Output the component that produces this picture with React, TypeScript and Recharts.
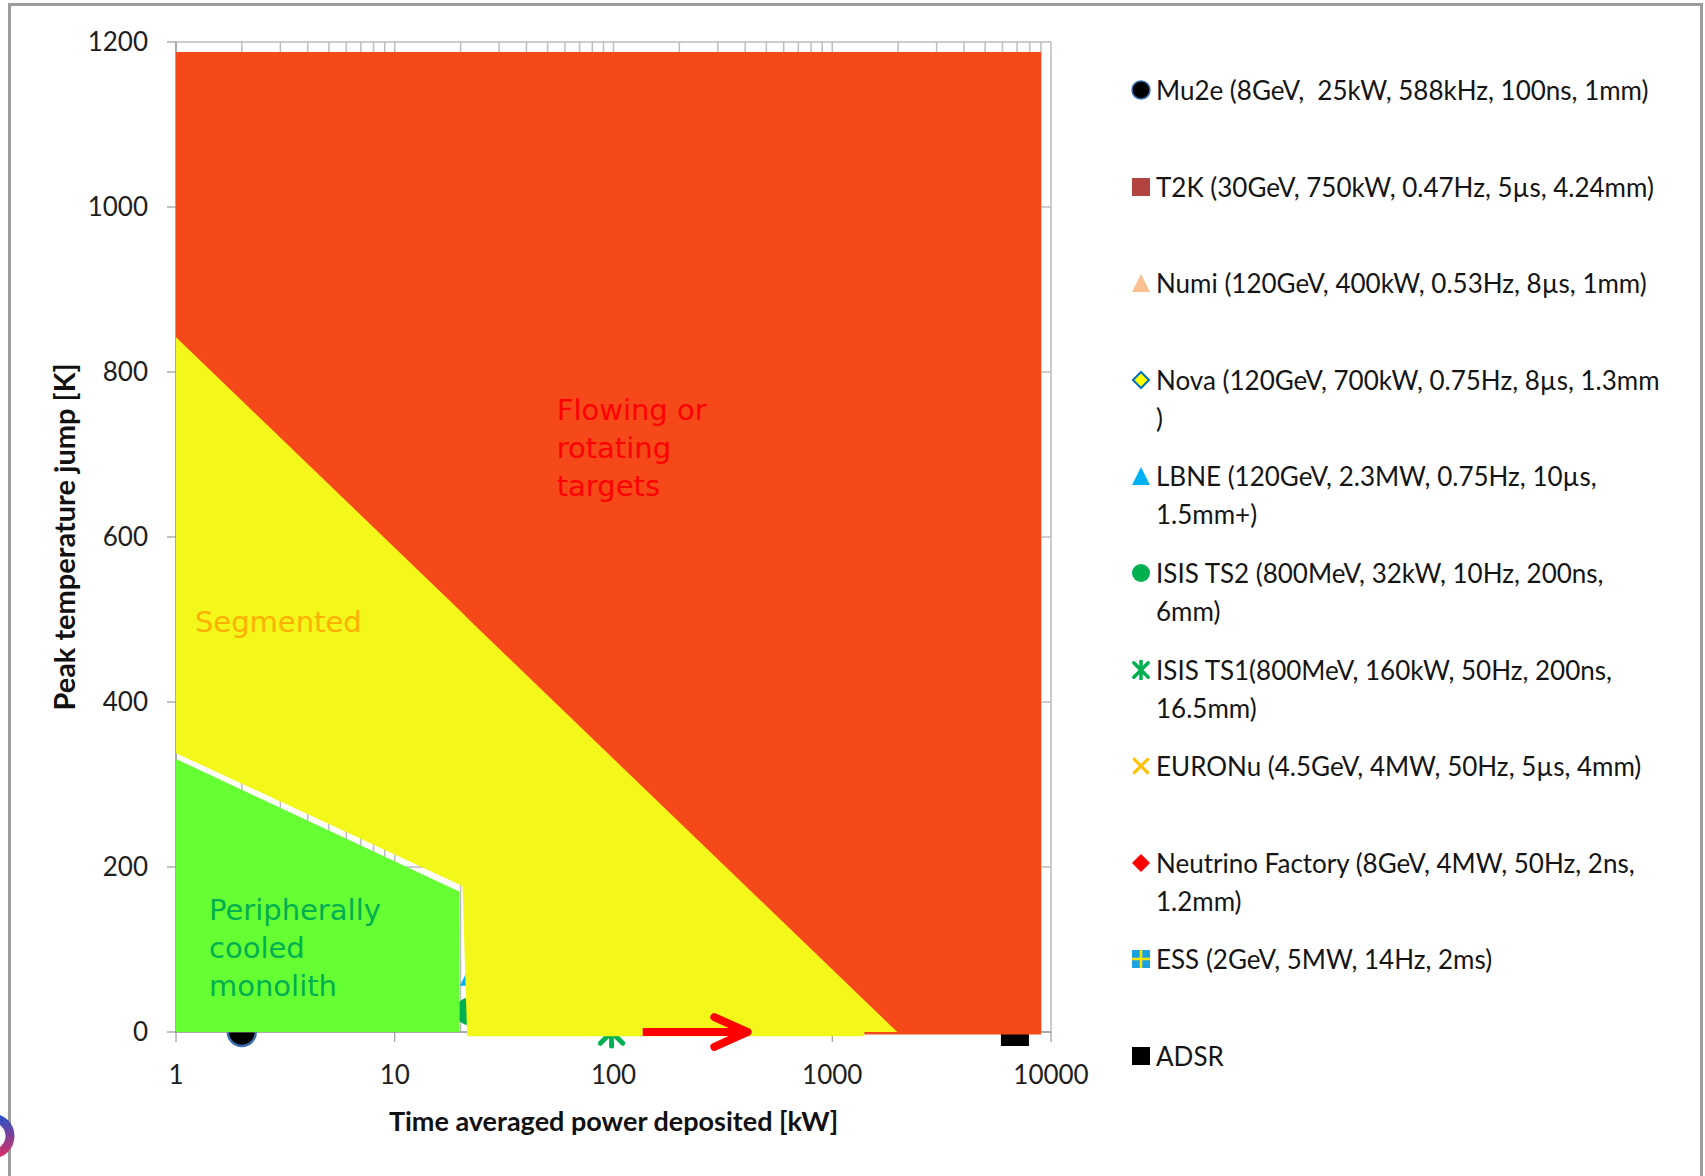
import React from "react";
import { ComposedChart, Area, Scatter, XAxis, YAxis, CartesianGrid, ReferenceLine, ReferenceDot, ReferenceArea, Label } from "recharts";

const X_TICKS = [1, 10, 100, 1000, 10000];
const X_GRID = [
  1, 2, 3, 4, 5, 6, 7, 8, 9,
  10, 20, 30, 40, 50, 60, 70, 80, 90,
  100, 200, 300, 400, 500, 600, 700, 800, 900,
  1000, 2000, 3000, 4000, 5000, 6000, 7000, 8000, 9000,
  10000,
];
const Y_TICKS = [0, 200, 400, 600, 800, 1000, 1200];

// design zones, [low, high] temperature at each power
const redZone = [
  { x: 1, range: [738, 1188] },
  { x: 1400, range: [0, 1188] },
  { x: 9000, range: [0, 1188] },
];
const yellowZone = [
  { x: 1, range: [338, 842] },
  { x: 20.4, range: [177, 508] },
  { x: 21.4, range: [0, 502] },
  { x: 1982, range: [0, 0] },
];
const greenZone = [
  { x: 1, range: [0, 331] },
  { x: 19.8, range: [0, 170] },
];
// the fills spill a few kelvin below the axis
const yellowSpill = { x1: 21.4, x2: 1400, y1: -5, y2: 0 };
const redSpill = { x1: 1400, x2: 9000, y1: -3, y2: 0 };

// facility points (most sit under the zone fills)
const mu2e = [{ x: 2, y: 0 }];
const t2k = [{ x: 750, y: 220 }];
const numi = [{ x: 400, y: 300 }];
const nova = [{ x: 700, y: 260 }];
const lbne = [{ x: 23, y: 73 }];
const isisTs2 = [{ x: 22, y: 25 }];
const isisTs1 = [{ x: 98, y: 0 }];
const euronu = [{ x: 4000, y: 120 }];
const nufact = [{ x: 4000, y: 400 }];
const ess = [{ x: 5000, y: 200 }];
const adsr = [{ x: 6840, y: 0 }];

const arrowShaft = [{ x: 136, y: 0 }, { x: 409, y: 0 }];
const arrowBarbUp = [{ x: 289, y: 18 }, { x: 409, y: 0 }];
const arrowBarbDown = [{ x: 289, y: -18 }, { x: 409, y: 0 }];

type Kind = "mu2e" | "square" | "triangle" | "nova" | "circle" | "star" | "cross" | "diamond" | "ess";

const SERIES: { name: string; label: string; kind: Kind; color: string; data: { x: number; y: number }[] }[] = [
  { name: "Mu2e", label: "Mu2e (8GeV,  25kW, 588kHz, 100ns, 1mm)", kind: "mu2e", color: "#000000", data: mu2e },
  { name: "T2K", label: "T2K (30GeV, 750kW, 0.47Hz, 5\u00b5s, 4.24mm)", kind: "square", color: "#B3433F", data: t2k },
  { name: "Numi", label: "Numi (120GeV, 400kW, 0.53Hz, 8\u00b5s, 1mm)", kind: "triangle", color: "#FAC090", data: numi },
  { name: "Nova", label: "Nova (120GeV, 700kW, 0.75Hz, 8\u00b5s, 1.3mm\n)", kind: "nova", color: "#FFFF00", data: nova },
  { name: "LBNE", label: "LBNE (120GeV, 2.3MW, 0.75Hz, 10\u00b5s,\n1.5mm+)", kind: "triangle", color: "#00B0F0", data: lbne },
  { name: "ISIS TS2", label: "ISIS TS2 (800MeV, 32kW, 10Hz, 200ns,\n6mm)", kind: "circle", color: "#00B050", data: isisTs2 },
  { name: "ISIS TS1", label: "ISIS TS1(800MeV, 160kW, 50Hz, 200ns,\n16.5mm)", kind: "star", color: "#00B050", data: isisTs1 },
  { name: "EURONu", label: "EURONu (4.5GeV, 4MW, 50Hz, 5\u00b5s, 4mm)", kind: "cross", color: "#FFC000", data: euronu },
  { name: "Neutrino Factory", label: "Neutrino Factory (8GeV, 4MW, 50Hz, 2ns,\n1.2mm)", kind: "diamond", color: "#FF0000", data: nufact },
  { name: "ESS", label: "ESS (2GeV, 5MW, 14Hz, 2ms)", kind: "ess", color: "#1BA1E2", data: ess },
  { name: "ADSR", label: "ADSR", kind: "square", color: "#000000", data: adsr },
];

function drawMarker(kind: Kind, cx: number, cy: number, s: number, color: string) {
  const h = s / 2;
  switch (kind) {
    case "mu2e":
      return <circle cx={cx} cy={cy} r={h} fill="#000" stroke="#3B6DB3" strokeWidth={s > 20 ? 2.5 : 1.5} />;
    case "circle":
      return <circle cx={cx} cy={cy} r={h} fill={color} />;
    case "square":
      return <rect x={cx - h} y={cy - h} width={s} height={s} fill={color} />;
    case "triangle":
      return <polygon points={`${cx},${cy - h} ${cx + h},${cy + h} ${cx - h},${cy + h}`} fill={color} />;
    case "diamond":
      return <polygon points={`${cx},${cy - h} ${cx + h},${cy} ${cx},${cy + h} ${cx - h},${cy}`} fill={color} />;
    case "nova":
      return (
        <polygon
          points={`${cx},${cy - h + 1} ${cx + h - 1},${cy} ${cx},${cy + h - 1} ${cx - h + 1},${cy}`}
          fill={color}
          stroke="#0070C0"
          strokeWidth={2}
        />
      );
    case "star":
      return (
        <g stroke={color} strokeWidth={s > 20 ? 5 : 3.5} strokeLinecap="round">
          <line x1={cx - h * 0.8} y1={cy - h * 0.8} x2={cx + h * 0.8} y2={cy + h * 0.8} />
          <line x1={cx - h * 0.8} y1={cy + h * 0.8} x2={cx + h * 0.8} y2={cy - h * 0.8} />
          <line x1={cx} y1={cy - h} x2={cx} y2={cy + h} />
        </g>
      );
    case "cross":
      return (
        <g stroke={color} strokeWidth={3}>
          <line x1={cx - h * 0.85} y1={cy - h * 0.85} x2={cx + h * 0.85} y2={cy + h * 0.85} />
          <line x1={cx - h * 0.85} y1={cy + h * 0.85} x2={cx + h * 0.85} y2={cy - h * 0.85} />
        </g>
      );
    case "ess":
      return (
        <g>
          <rect x={cx - h} y={cy - h} width={s} height={s} fill={color} />
          <line x1={cx - h} y1={cy} x2={cx + h} y2={cy} stroke="#FFE400" strokeWidth={2.5} />
          <line x1={cx} y1={cy - h} x2={cx} y2={cy + h} stroke="#FFE400" strokeWidth={2.5} />
        </g>
      );
  }
  return null;
}

const markerShape = (kind: Kind, color: string, size: number) => (p: any) =>
  <g>{drawMarker(kind, p.cx, p.cy, size, color)}</g>;

const zoneText = (lines: string[], color: string) => (p: any) => {
  const vb = p.viewBox || { x: 0, y: 0 };
  return (
    <text x={vb.x} y={vb.y} fill={color} fontSize={29} fontFamily="'DejaVu Sans', sans-serif">
      {lines.map((l, i) => (
        <tspan key={i} x={vb.x} dy={i === 0 ? 0 : 38}>{l}</tspan>
      ))}
    </text>
  );
};

const tickStyle = { fill: "#1e1e1e", fontSize: 26, fontFamily: "Lato, sans-serif" };

function LegendBox() {
  return (
    <div style={{ position: "absolute", left: 1131, top: 71, width: 570, fontFamily: "Lato, sans-serif" }}>
      {SERIES.map((s) => (
        <div key={s.name} style={{ position: "relative", height: 96.6 }}>
          <svg width={20} height={20} style={{ position: "absolute", left: 0, top: 9 }}>
            {drawMarker(s.kind, 10, 10, 18, s.color)}
          </svg>
          <div style={{ position: "absolute", left: 25, top: 0, fontSize: 26, lineHeight: "38px", color: "#151515", whiteSpace: "pre" }}>
            {s.label}
          </div>
        </div>
      ))}
    </div>
  );
}

export default function App() {
  return (
    <div style={{ position: "fixed", left: 0, top: 0, width: 1705, height: 1176, overflow: "hidden", background: "#fff" }}>
      <div style={{ position: "absolute", left: 8, top: 3, width: 1695, height: 1300, border: "3px solid #9c9c9c", boxSizing: "border-box" }} />
      <svg width={40} height={80} style={{ position: "absolute", left: 0, top: 1096 }}>
        <defs>
          <linearGradient id="logoG" x1="0" y1="0" x2="0" y2="1">
            <stop offset="0" stopColor="#2f4fc4" />
            <stop offset="1" stopColor="#d0306a" />
          </linearGradient>
        </defs>
        <circle cx={-8} cy={40} r={18} fill="none" stroke="url(#logoG)" strokeWidth={9} />
      </svg>
      <div style={{ position: "absolute", left: 0, top: 0 }}>
        <ComposedChart width={1705} height={1176} margin={{ top: 42, right: 654, bottom: 0, left: 20 }}>
          <CartesianGrid stroke="#bdbdbd" strokeWidth={1.5} verticalValues={X_GRID} horizontalValues={Y_TICKS} />
          <XAxis
            type="number"
            dataKey="x"
            scale="log"
            domain={[1, 10000]}
            ticks={X_TICKS}
            interval={0}
            height={144}
            tickSize={10}
            tickMargin={24}
            stroke="#868686"
            tick={tickStyle}
            zIndex={60}
          >
            <Label
              value="Time averaged power deposited [kW]"
              position="insideBottom"
              offset={45}
              style={{ fontSize: 27, fontWeight: 700, fill: "#111", fontFamily: "Lato, sans-serif" }}
            />
          </XAxis>
          <YAxis
            type="number"
            dataKey="y"
            domain={[0, 1200]}
            ticks={Y_TICKS}
            interval={0}
            width={156}
            tickSize={9}
            tickMargin={19}
            stroke="#868686"
            tick={tickStyle}
            zIndex={60}
          >
            <Label
              value="Peak temperature jump [K]"
              angle={-90}
              position="insideLeft"
              offset={45}
              style={{ fontSize: 29, fontWeight: 700, fill: "#111", fontFamily: "Lato, sans-serif", textAnchor: "middle" }}
            />
          </YAxis>

          {SERIES.map((s) => (
            <Scatter
              key={s.name}
              name={s.name}
              data={s.data}
              fill={s.color}
              shape={markerShape(s.kind, s.color, 28)}
              isAnimationActive={false}
              zIndex={50}
            />
          ))}

          <Area data={redZone} dataKey="range" type="linear" fill="#F5491A" fillOpacity={1} stroke="none" isAnimationActive={false} zIndex={100} />
          <Area data={yellowZone} dataKey="range" type="linear" fill="#F3F71A" fillOpacity={1} stroke="none" isAnimationActive={false} zIndex={101} />
          <Area data={greenZone} dataKey="range" type="linear" fill="#66FF33" fillOpacity={1} stroke="none" isAnimationActive={false} zIndex={102} />
          <ReferenceArea {...yellowSpill} fill="#F3F71A" fillOpacity={1} stroke="none" ifOverflow="visible" zIndex={101} />
          <ReferenceArea {...redSpill} fill="#F5491A" fillOpacity={1} stroke="none" ifOverflow="visible" zIndex={100} />

          <ReferenceLine segment={arrowShaft} stroke="#FF0000" strokeWidth={8} ifOverflow="visible" />
          <ReferenceLine segment={arrowBarbUp} stroke="#FF0000" strokeWidth={8} strokeLinecap="round" ifOverflow="visible" />
          <ReferenceLine segment={arrowBarbDown} stroke="#FF0000" strokeWidth={8} strokeLinecap="round" ifOverflow="visible" />

          <ReferenceDot x={55} y={742} r={0} fill="none" stroke="none" ifOverflow="visible" label={zoneText(["Flowing or", "rotating", "targets"], "#FF0000")} />
          <ReferenceDot x={1.22} y={485} r={0} fill="none" stroke="none" ifOverflow="visible" label={zoneText(["Segmented"], "#FFB000")} />
          <ReferenceDot x={1.415} y={136} r={0} fill="none" stroke="none" ifOverflow="visible" label={zoneText(["Peripherally", "cooled", "monolith"], "#00B050")} />
        </ComposedChart>
      </div>
      <LegendBox />
    </div>
  );
}
